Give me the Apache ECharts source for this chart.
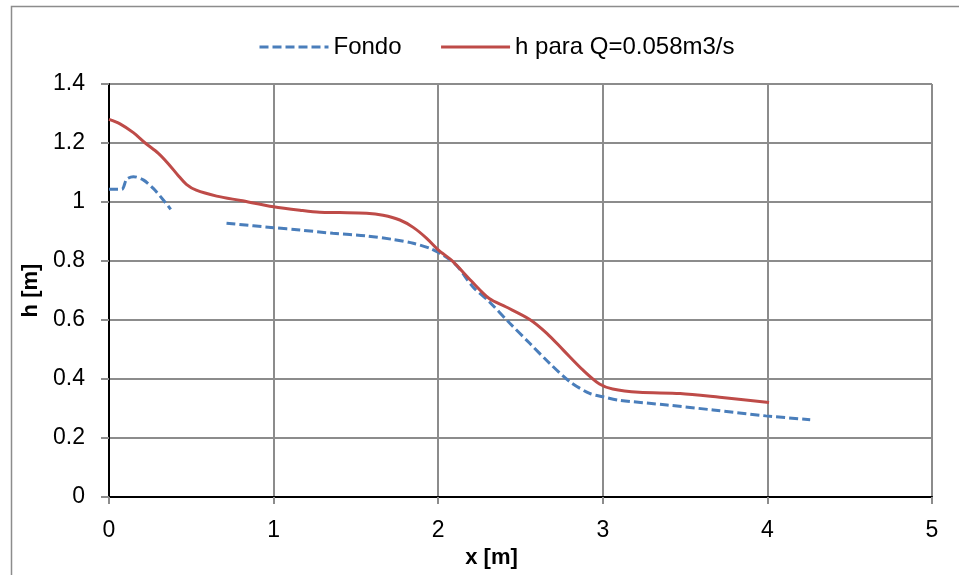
<!DOCTYPE html>
<html>
<head>
<meta charset="utf-8">
<script src="https://cdn.jsdelivr.net/npm/echarts@6/dist/echarts.min.js"></script>
<style>
html,body{margin:0;padding:0;background:#fff;}
#chart{width:959px;height:575px;}
</style>
</head>
<body>
<div id="chart"></div>
<script>
// ---- data ----
var seriesNames = ['Fondo', 'h para Q=0.058m3/s'];
var xTicks = [0, 1, 2, 3, 4, 5];
var yTicks = [0, 0.2, 0.4, 0.6, 0.8, 1, 1.2, 1.4];

// Fondo (two segments, gap between)
var fondoX1 = [0, 0.077, 0.107, 0.148, 0.208, 0.269, 0.33, 0.375];
var fondoY1 = [1.043, 1.043, 1.077, 1.086, 1.075, 1.046, 1.007, 0.975];
var fondoX2 = [0.714, 1.0, 1.16, 1.36, 1.565, 1.726, 1.848, 1.95, 2.03, 2.11, 2.21, 2.31, 2.435, 2.556, 2.677, 2.8, 2.92, 3.0, 3.10, 3.39, 3.67, 3.99, 4.26];
var fondoY2 = [0.928, 0.913, 0.905, 0.894, 0.885, 0.873, 0.86, 0.843, 0.82, 0.786, 0.713, 0.662, 0.589, 0.521, 0.453, 0.391, 0.351, 0.34, 0.328, 0.312, 0.295, 0.275, 0.262];

// h para Q=0.058m3/s
var hX = [0, 0.067, 0.148, 0.22, 0.30, 0.36, 0.42, 0.47, 0.53, 0.654, 0.8, 1.0, 1.16, 1.28, 1.4, 1.565, 1.665, 1.767, 1.848, 1.93, 2.0, 2.09, 2.2, 2.31, 2.41, 2.556, 2.66, 2.76, 2.88, 2.98, 3.06, 3.22, 3.47, 3.71, 4.01];
var hY = [1.28, 1.265, 1.235, 1.20, 1.165, 1.13, 1.09, 1.06, 1.04, 1.02, 1.005, 0.984, 0.972, 0.965, 0.964, 0.962, 0.955, 0.939, 0.914, 0.877, 0.838, 0.798, 0.733, 0.673, 0.645, 0.602, 0.555, 0.498, 0.43, 0.383, 0.366, 0.355, 0.351, 0.338, 0.320];

function pairs(xs, ys) { return xs.map(function (x, i) { return [x, ys[i]]; }); }
var fondoData = pairs(fondoX1, fondoY1).concat([[null, null]]).concat(pairs(fondoX2, fondoY2));
var hData = pairs(hX, hY);

var FONT = '"Liberation Sans", Arial, sans-serif';
var GRID_GRAY = '#8c8c8c';

var chart = echarts.init(document.getElementById('chart'), null, {renderer: 'canvas'});
chart.setOption({
  animation: false,
  backgroundColor: '#fff',
  textStyle: {fontFamily: FONT},
  graphic: [{
    type: 'rect', left: 9, top: 4, silent: true,
    shape: {width: 1000, height: 620},
    style: {fill: 'none', stroke: '#8c8c8c', lineWidth: 1.5}
  }],
  legend: {
    left: 253, top: 30,
    itemWidth: 69, itemHeight: 14, itemGap: 38,
    itemStyle: {opacity: 0},
    lineStyle: {width: 3},
    textStyle: {fontFamily: FONT, fontSize: 24, color: '#000'},
    data: seriesNames
  },
  grid: {left: 109, right: 27, top: 84, bottom: 78, containLabel: false},
  xAxis: [{
    type: 'value', min: 0, max: 5, interval: 1,
    name: 'x [m]', nameLocation: 'middle', nameGap: 50,
    nameTextStyle: {fontFamily: FONT, fontSize: 22, fontWeight: 'bold', color: '#000', padding: [0, 58, 0, 0]},
    axisLine: {show: true, onZero: false, lineStyle: {color: GRID_GRAY, width: 2}},
    axisTick: {show: true, length: 7, lineStyle: {color: GRID_GRAY, width: 2}},
    axisLabel: {fontFamily: FONT, fontSize: 23, color: '#000', margin: 22,
      formatter: function (v) { return xTicks.indexOf(v) >= 0 ? String(v) : ''; }},
    splitLine: {show: true, lineStyle: {color: GRID_GRAY, width: 2}}
  }, {
    type: 'value', min: 0, max: 5, interval: 1, position: 'top',
    axisLine: {show: true, lineStyle: {color: '#000', width: 2}},
    axisTick: {show: false}, axisLabel: {show: false}, splitLine: {show: false}
  }],
  yAxis: [{
    type: 'value', min: 0, max: 1.4, interval: 0.2,
    name: 'h [m]', nameLocation: 'middle', nameGap: 67, nameRotate: 90,
    nameTextStyle: {fontFamily: FONT, fontSize: 22, fontWeight: 'bold', color: '#000'},
    axisLine: {show: true, onZero: false, lineStyle: {color: GRID_GRAY, width: 2}},
    axisTick: {show: true, length: 8, lineStyle: {color: GRID_GRAY, width: 2}},
    axisLabel: {fontFamily: FONT, fontSize: 23, color: '#000', margin: 24,
      formatter: function (v) { var r = Math.round(v * 10) / 10; return yTicks.indexOf(r) >= 0 ? String(r) : ''; }},
    splitLine: {show: true, lineStyle: {color: GRID_GRAY, width: 2}}
  }, {
    type: 'value', min: 0, max: 1.4, interval: 0.2, position: 'right',
    axisLine: {show: true, lineStyle: {color: '#000', width: 2}},
    axisTick: {show: false}, axisLabel: {show: false}, splitLine: {show: false}
  }],
  series: [{
    name: seriesNames[0], type: 'line', data: fondoData,
    xAxisIndex: 0, yAxisIndex: 0,
    showSymbol: false, symbol: 'none', smooth: 0.3, connectNulls: false,
    lineStyle: {color: '#4a7ebb', width: 3, type: [9, 4], cap: 'butt'},
    itemStyle: {color: '#4a7ebb'}, z: 3
  }, {
    name: seriesNames[1], type: 'line', data: hData,
    xAxisIndex: 0, yAxisIndex: 0,
    showSymbol: false, symbol: 'none', smooth: 0.3,
    lineStyle: {color: '#be4b48', width: 3},
    itemStyle: {color: '#be4b48'}, z: 4
  }]
});
</script>
</body>
</html>
